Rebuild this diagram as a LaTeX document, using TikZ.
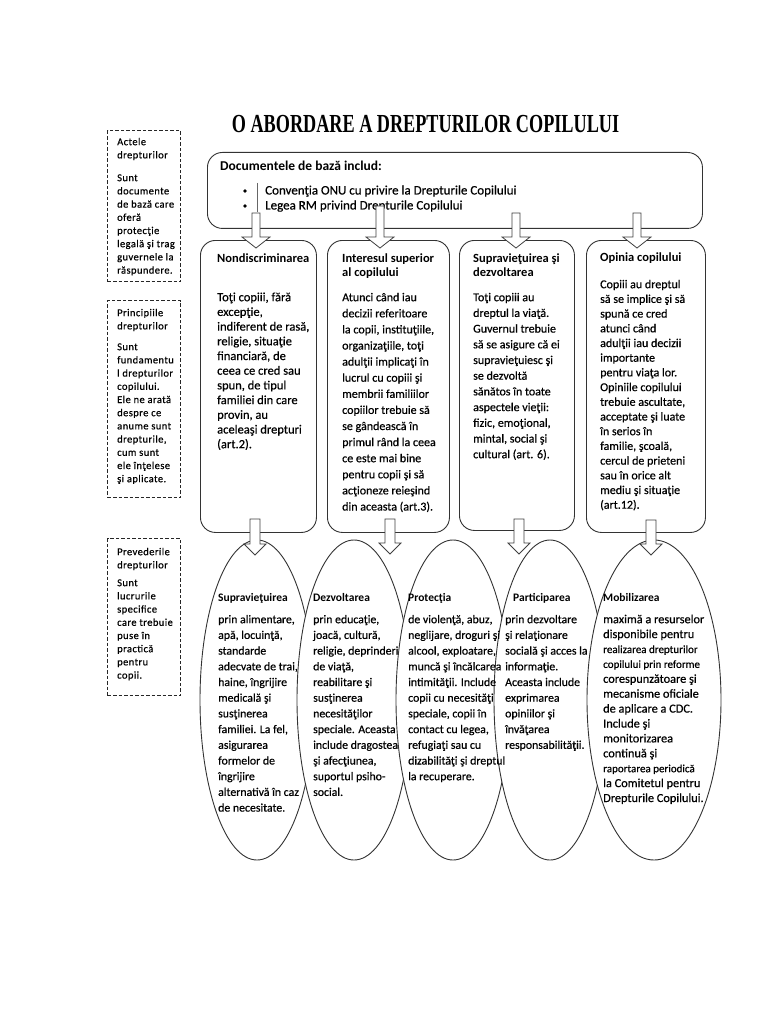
\documentclass[tikz,border=0pt]{standalone}
\usepackage{fontspec}
\setmainfont{Carlito}[UprightFeatures={FakeBold=0.5}]
\newfontfamily\titlefont{Liberation Serif}
\usetikzlibrary{shapes.geometric}
\newcommand\blockarrow[6]{% x, ytop, ytip, halfshaft, halfhead, headlen
  \draw[blk] (#1-#4,#2) -- (#1+#4,#2) -- (#1+#4,#3-#6) -- (#1+#5,#3-#6) -- (#1,#3) -- (#1-#5,#3-#6) -- (#1-#4,#3-#6) -- cycle;}
\begin{document}
\begin{tikzpicture}[x=1pt,y=-1pt,
  outline/.style={draw=black!80, line width=0.9pt},
  rbox/.style={outline, fill=white, rounded corners=15pt, inner sep=0, anchor=north west},
  dbox/.style={draw=black!85, line width=1.3pt, dash pattern=on 3.5pt off 2pt, inner sep=0, anchor=north west},
  ell/.style={outline, fill=white, ellipse, inner sep=0},
  blk/.style={draw=black!75, line width=0.8pt, fill=white, line join=miter},
  txt/.style={inner sep=0, anchor=north west, align=left},
  lft/.style={txt, font={\fontsize{10.5}{13.2}\selectfont\addfontfeature{LetterSpace=4,FakeBold=0.7}}},
]
\useasboundingbox[fill=white] (0,0) rectangle (768,1024);

% title
\node[inner sep=0, anchor=base, font={\titlefont\bfseries\fontsize{26}{30}\selectfont}] (title) at (425.5,133) {\scalebox{0.70}[1]{O ABORDARE A DREPTURILOR COPILULUI}};

% left dashed boxes
\node[dbox, minimum width=73pt, minimum height=151pt] (la) at (107,130) {};
\node[dbox, minimum width=73pt, minimum height=197pt] (lb) at (107,300) {};
\node[dbox, minimum width=73pt, minimum height=157pt] (lc) at (107,538) {};

\node[lft] (lah) at (117,145-9) {\rule{0pt}{9pt}Actele\\drepturilor};
\node[lft] (lab) at (117,181-9) {\rule{0pt}{9pt}Sunt\\documente\\de bază care\\oferă\\protecţie\\legală şi trag\\guvernele la\\răspundere.};
\node[lft] (lbh) at (117,316-9) {\rule{0pt}{9pt}Principiile\\drepturilor};
\node[lft] (lbb) at (117,350-9) {\rule{0pt}{9pt}Sunt\\fundamentu\\l drepturilor\\copilului.\\Ele ne arată\\despre ce\\anume sunt\\drepturile,\\cum sunt\\ele înţelese\\şi aplicate.};
\node[lft] (lch) at (117,555-9) {\rule{0pt}{9pt}Prevederile\\drepturilor};
\node[lft] (lcb) at (117,586-9) {\rule{0pt}{9pt}Sunt\\lucrurile\\specifice\\care trebuie\\puse în\\practică\\pentru\\copii.};

% top box
\node[rbox, minimum width=495pt, minimum height=76pt] (docs) at (207,152) {};
\node[inner sep=0, anchor=base west, font={\bfseries\fontsize{13.5}{16}\selectfont}] (docsh) at (220,171) {Documentele de bază includ:};
\fill[black] (245,191) circle (1.9pt);
\fill[black] (245,206) circle (1.9pt);
\draw[black!60, line width=0.5pt] (257,183) -- (257,212);
\node[inner sep=0, anchor=base west, font={\fontsize{13}{15}\selectfont}] (conv) at (265,194.5) {Convenţia ONU cu privire la Drepturile Copilului};
\node[inner sep=0, anchor=base west, font={\fontsize{13}{15}\selectfont}] (lege) at (265,209.5) {Legea RM privind Drepturile Copilului};

% rounded boxes
\node[rbox, minimum width=116pt, minimum height=292pt] (b1) at (200,240) {};
\node[rbox, minimum width=122pt, minimum height=292pt] (b2) at (327,240) {};
\node[rbox, minimum width=115pt, minimum height=290pt] (b3) at (459,240) {};
\node[rbox, minimum width=119pt, minimum height=292pt] (b4) at (586,240) {};

% ellipses
\node[ell, minimum width=114pt, minimum height=320pt] (e1) at (257,700) {};
\node[ell, minimum width=114pt, minimum height=320pt] (e2) at (354,700) {};
\node[ell, minimum width=114pt, minimum height=320pt] (e3) at (453,700) {};
\node[ell, minimum width=112pt, minimum height=320pt] (e4) at (550,700) {};
\node[ell, minimum width=134pt, minimum height=320pt] (e5) at (654,700) {};

% block arrows: top box -> rounded boxes
\blockarrow{256}{213}{248}{4}{14}{11}
\blockarrow{380}{206}{248}{4}{14}{11}
\blockarrow{516}{213}{248}{4}{14}{11}
\blockarrow{637}{213}{248}{4}{14}{11}
% block arrows: rounded boxes -> ellipses
\blockarrow{255}{519}{555}{5}{11}{11}
\blockarrow{390}{519}{554}{5}{11}{11}
\blockarrow{519}{519}{554}{5}{11}{11}
\blockarrow{651}{520}{555}{5}{11}{11}

% rounded box texts
\node[txt, font={\bfseries\fontsize{12.5}{14}\selectfont}] (b1h) at (217,262-10) {\rule{0pt}{10pt}Nondiscriminarea};
\node[txt, font={\fontsize{12.5}{14.7}\selectfont}] (b1b) at (217,301-10) {\rule{0pt}{10pt}Toţi copiii, fără\\excepţie,\\indiferent de rasă,\\religie, situaţie\\financiară, de\\ceea ce cred sau\\spun, de tipul\\familiei din care\\provin, au\\aceleaşi drepturi\\(art.2).};

\node[txt, font={\bfseries\fontsize{12.5}{14}\selectfont}] (b2h) at (342,262-10) {\rule{0pt}{10pt}Interesul superior\\al copilului};
\node[txt, font={\fontsize{12}{16.1}\selectfont}] (b2b) at (342,301-10) {\rule{0pt}{10pt}Atunci când iau\\decizii referitoare\\la copii, instituţiile,\\organizaţiile, toţi\\adulţii implicaţi în\\lucrul cu copiii şi\\membrii familiilor\\copiilor trebuie să\\se gândească în\\primul rând la ceea\\ce este mai bine\\pentru copii şi să\\acţioneze reieşind\\din aceasta (art.3).};

\node[txt, font={\bfseries\fontsize{12.5}{14}\selectfont}] (b3h) at (473,262-10) {\rule{0pt}{10pt}Supravieţuirea şi\\dezvoltarea};
\node[txt, font={\fontsize{12}{15.7}\selectfont}] (b3b) at (473,301-10) {\rule{0pt}{10pt}Toţi copiii au\\dreptul la viaţă.\\Guvernul trebuie\\să se asigure că ei\\supravieţuiesc şi\\se dezvoltă\\sănătos în toate\\aspectele vieţii:\\fizic, emoţional,\\mintal, social şi\\cultural (art. 6).};

\node[txt, font={\bfseries\fontsize{12.5}{14}\selectfont}] (b4h) at (600,261-10) {\rule{0pt}{10pt}Opinia copilului};
\node[txt, font={\fontsize{12}{14.7}\selectfont}] (b4b) at (600,288-10) {\rule{0pt}{10pt}Copiii au dreptul\\să se implice şi să\\spună ce cred\\atunci când\\adulţii iau decizii\\importante\\pentru viaţa lor.\\Opiniile copilului\\trebuie ascultate,\\acceptate şi luate\\în serios în\\familie, şcoală,\\cercul de prieteni\\sau în orice alt\\mediu şi situaţie\\(art.12).};

% ellipse texts
\node[txt, font={\bfseries\fontsize{11.5}{14}\selectfont}] (e1h) at (218,601-10) {\rule{0pt}{10pt}Supravieţuirea};
\node[txt, font={\fontsize{11.8}{15.7}\selectfont}] (e1b) at (218,623-10) {\rule{0pt}{10pt}prin alimentare,\\apă, locuinţă,\\standarde\\adecvate de trai,\\haine, îngrijire\\medicală şi\\susţinerea\\familiei. La fel,\\asigurarea\\formelor de\\îngrijire\\alternativă în caz\\de necesitate.};

\node[txt, font={\bfseries\fontsize{11.5}{14}\selectfont}] (e2h) at (313,601-10) {\rule{0pt}{10pt}Dezvoltarea};
\node[txt, font={\fontsize{11.8}{15.7}\selectfont}] (e2b) at (313,623-10) {\rule{0pt}{10pt}prin educaţie,\\joacă, cultură,\\religie, deprinderi\\de viaţă,\\reabilitare şi\\susţinerea\\necesităţilor\\speciale. Aceasta\\include dragostea\\şi afecţiunea,\\suportul psiho-\\social.};

\node[txt, font={\bfseries\fontsize{11.5}{14}\selectfont}] (e3h) at (408,601-10) {\rule{0pt}{10pt}Protecţia};
\node[txt, font={\fontsize{11.8}{15.7}\selectfont}] (e3b) at (408,623-10) {\rule{0pt}{10pt}de violenţă, abuz,\\neglijare, droguri şi\\alcool, exploatare,\\muncă şi încălcarea\\intimităţii. Include\\copii cu necesităţi\\speciale, copii în\\contact cu legea,\\refugiaţi sau cu\\dizabilităţi şi dreptul\\la recuperare.};

\node[txt, font={\bfseries\fontsize{11.5}{14}\selectfont}] (e4h) at (513,601-10) {\rule{0pt}{10pt}Participarea};
\node[txt, font={\fontsize{11.8}{15.7}\selectfont}] (e4b) at (505,623-10) {\rule{0pt}{10pt}prin dezvoltare\\şi relaţionare\\socială şi acces la\\informaţie.\\Aceasta include\\exprimarea\\opiniilor şi\\învăţarea\\responsabilităţii.};

\node[txt, font={\bfseries\fontsize{11.5}{14}\selectfont}] (e5h) at (603,601-10) {\rule{0pt}{10pt}Mobilizarea};
\node[txt, font={\fontsize{12.3}{14.9}\selectfont}] (e5b) at (603,623-10) {\rule{0pt}{10pt}maximă a resurselor\\disponibile pentru\\{\fontsize{11}{14.9}\selectfont realizarea drepturilor}\\{\fontsize{11}{14.9}\selectfont copilului prin reforme}\\corespunzătoare şi\\mecanisme oficiale\\de aplicare a CDC.\\Include şi\\monitorizarea\\continuă şi\\{\fontsize{11}{14.9}\selectfont raportarea periodică}\\la Comitetul pentru\\Drepturile Copilului.};
\end{tikzpicture}
\end{document}
